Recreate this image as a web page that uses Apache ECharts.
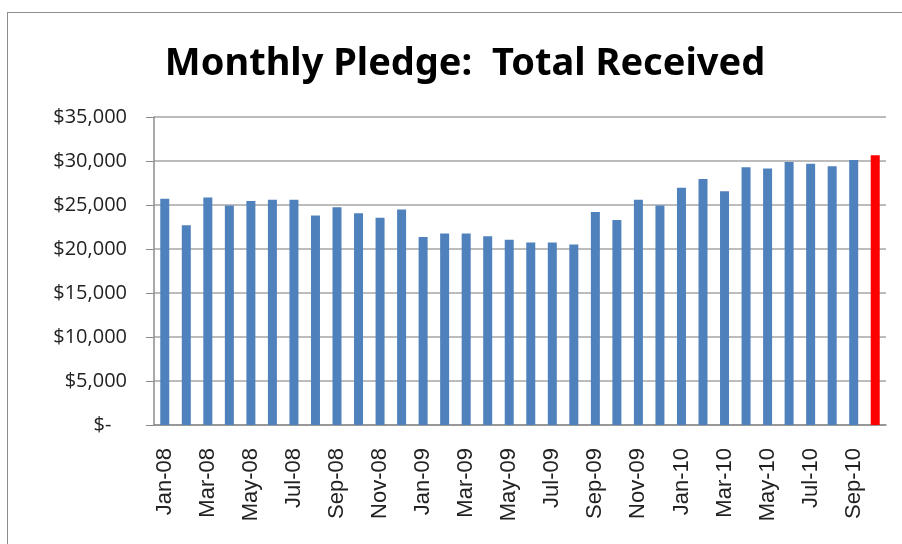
<!DOCTYPE html>
<html lang="en">
<head>
    <meta charset="UTF-8">
    <title>Monthly Pledge</title>
    <style>
        body { margin: 0; background: #fff; }
        #frame { position: absolute; left: 7px; top: 12px; width: 920px; height: 560px; border: 1.5px solid #8c8c8c; }
        #main { position: absolute; left: 0; top: 0; width: 902px; height: 544px; }
    </style>
</head>
<body>
<div id="frame"></div>
<div id="main"></div>
<script src="https://cdn.jsdelivr.net/npm/echarts@6/dist/echarts.min.js"></script>
<script type="text/javascript">
    var months = ['Jan-08', 'Feb-08', 'Mar-08', 'Apr-08', 'May-08', 'Jun-08', 'Jul-08', 'Aug-08', 'Sep-08', 'Oct-08', 'Nov-08', 'Dec-08',
        'Jan-09', 'Feb-09', 'Mar-09', 'Apr-09', 'May-09', 'Jun-09', 'Jul-09', 'Aug-09', 'Sep-09', 'Oct-09', 'Nov-09', 'Dec-09',
        'Jan-10', 'Feb-10', 'Mar-10', 'Apr-10', 'May-10', 'Jun-10', 'Jul-10', 'Aug-10', 'Sep-10', 'Oct-10'];
    var received = [25700, 22700, 25850, 24950, 25450, 25600, 25600, 23800, 24750, 24050, 23550, 24500,
        21350, 21750, 21750, 21450, 21050, 20750, 20750, 20500, 24200, 23300, 25600, 24950,
        26950, 27950, 26550, 29300, 29150, 29900, 29700, 29400, 30100, 30650];
    var yTicks = [0, 5000, 10000, 15000, 20000, 25000, 30000, 35000];

    var lastIdx = received.length - 1;
    var barData = received.map(function (v, i) {
        // 最后一个月标红
        return i === lastIdx ? { value: v, itemStyle: { color: '#ff0000' } } : v;
    });

    var myChart = echarts.init(document.getElementById('main'));
    var option = {
        animation: false,
        title: {
            text: 'Monthly Pledge:  Total Received',
            left: 460,
            top: 40,
            textAlign: 'center',
            textStyle: {
                fontFamily: '"Noto Sans", sans-serif',
                fontSize: 38,
                fontWeight: 'bold',
                color: '#000'
            }
        },
        grid: { left: 154, right: 16, top: 117, bottom: 119 },
        xAxis: {
            type: 'category',
            data: months,
            axisLine: { lineStyle: { color: '#8c8c8c', width: 1.5 } },
            axisTick: { interval: 1, length: 7, lineStyle: { color: '#8c8c8c' } },
            axisLabel: {
                interval: 1,
                rotate: 90,
                margin: 23,
                fontFamily: '"Liberation Sans", Arial, sans-serif',
                fontSize: 22,
                color: '#222'
            }
        },
        yAxis: {
            type: 'value',
            min: yTicks[0],
            max: yTicks[yTicks.length - 1],
            interval: 5000,
            axisLine: { show: true, lineStyle: { color: '#8c8c8c', width: 1.5 } },
            axisTick: { show: true, inside: false, length: 8, lineStyle: { color: '#8c8c8c' } },
            splitLine: { lineStyle: { color: '#a6a6a6', width: 1.5 } },
            axisLabel: {
                margin: 27,
                fontFamily: '"Open Sans", "Noto Sans", sans-serif',
                fontSize: 20,
                color: '#222',
                formatter: function (v) {
                    return v === 0 ? '$-   ' : '$' + v.toLocaleString('en-US');
                }
            }
        },
        series: [{
            type: 'bar',
            data: barData,
            barWidth: 9,
            itemStyle: { color: '#4f81bd' }
        }]
    };
    myChart.setOption(option);
</script>
</body>
</html>
